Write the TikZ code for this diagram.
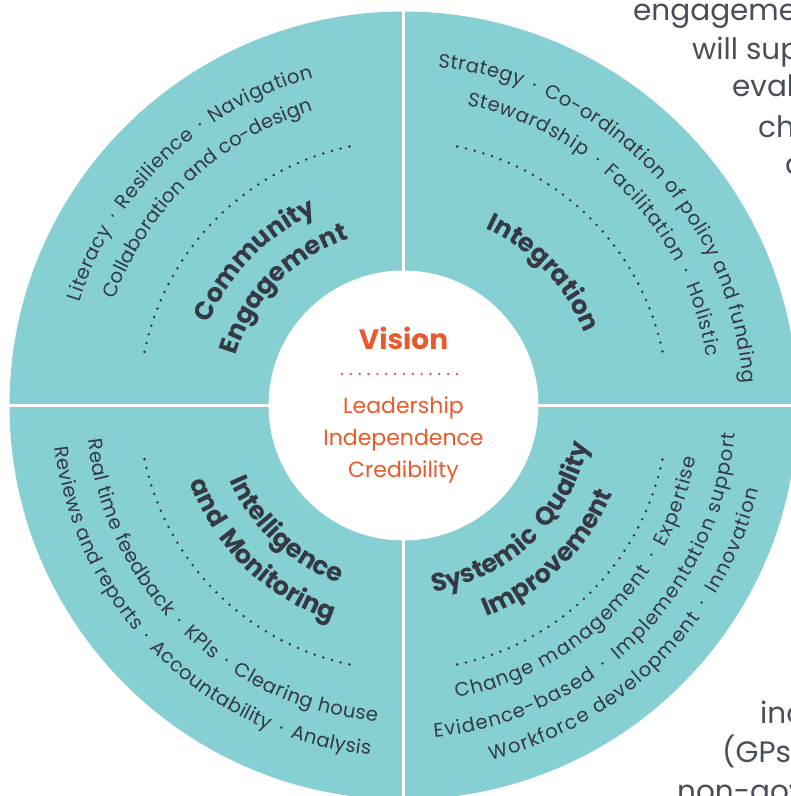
\documentclass[tikz,border=0pt]{standalone}
\usepackage{fontspec}
\setmainfont{Poppins}
\usetikzlibrary{decorations.text}
\definecolor{tealfill}{HTML}{86CFD3}
\definecolor{ink}{HTML}{353943}
\definecolor{orng}{HTML}{E85A2C}
\definecolor{bggray}{HTML}{4A4E59}
\newcommand{\smallfont}{\fontsize{19.5}{23}\selectfont}
\newcommand{\titlefont}{\fontsize{25.5}{30}\selectfont\bfseries}
% text spread along an arc from angle #2 to angle #3 (radius #1)
\newcommand{\fitarc}[5]{%
  \path[decorate, decoration={text along path, text align={fit to path}, text color=ink, text={|#4|#5}}]
    (#2:#1) arc[start angle=#2, end angle=#3, radius=#1];}
% text centred on an arc around mid angle #2 (clockwise: tops outward)
\newcommand{\uptext}[4]{%
  \path[decorate, decoration={text along path, text align=center, text color=ink, text={|#3|#4}}]
    ({#2+75}:#1) arc[start angle={#2+75}, end angle={#2-75}, radius=#1];}
% text centred on an arc around mid angle #2 (counter-clockwise: tops inward)
\newcommand{\downtext}[4]{%
  \path[decorate, decoration={text along path, text align=center, text color=ink, text={|#3|#4}}]
    ({#2-75}:#1) arc[start angle={#2-75}, end angle={#2+75}, radius=#1];}
\newcommand{\bul}{{\kern3pt}·{\kern3pt}}
\begin{document}
\begin{tikzpicture}[x=1pt,y=1pt,
  bgtext/.style={font=\fontsize{29.5}{36}\selectfont, text=bggray, inner sep=0pt, anchor=base west},
  centertext/.style={font=\fontsize{22}{26}\selectfont, text=orng, inner sep=0pt, anchor=base},
  dotarc/.style={ink, line width=2.8pt, line cap=round, dash pattern=on 0pt off 9.03pt},
  sepline/.style={white, line width=2.5pt}]
\clip (-403.5,-390.5) rectangle (387.5,405.5);
\fill[white] (-403.5,-390.5) rectangle (387.5,405.5);
% background paragraph fragments
\node[bgtext] (bga) at (229.5,384.5) {engageme};
\node[bgtext] (bgb) at (288.5,345.5) {will sup};
\node[bgtext] (bgc) at (328.5,308.5) {eval};
\node[bgtext] (bgd) at (354.5,268.5) {ch};
\node[bgtext] (bge) at (381.5,230.5) {a};
\node[bgtext] (bgf) at (356.5,-317.5) {inc};
\node[bgtext] (bgg) at (318.5,-356.5) {(GPs};
\node[bgtext] (bgh) at (273.5,-395.5) {non-gov};
% wheel
\fill[tealfill] (0,0) circle[radius=394];
\draw[sepline] (-400,0) -- (400,0);
\draw[sepline] (0,-400) -- (0,400);
\fill[white] (0,0) circle[radius=135];
% centre
\node[centertext, font=\fontsize{28}{32}\selectfont\bfseries] (vision) at (0,56.5) {Vision};
\draw[orng, line width=2.7pt, line cap=round, dash pattern=on 0pt off 8.846pt] (-61.5,31.5) -- (53.6,31.5);
\node[centertext] (lead) at (0,-7.5) {Leadership};
\node[centertext] (indep) at (0,-39.5) {Independence};
\node[centertext] (cred) at (0,-71.5) {Credibility};
% top-left: Community Engagement
\fitarc{340}{162.3}{105.4}{\smallfont}{Literacy \bul\ Resilience \bul\ Navigation}
\fitarc{308}{159.8}{107.0}{\smallfont}{Collaboration and co-design}
\draw[dotarc] (168.3:264.5) arc[start angle=168.3, end angle=101.7, radius=264.5];
\uptext{211}{135.7}{\titlefont}{Community}
\uptext{175}{135.75}{\titlefont}{Engagement}
% top-right: Integration
\fitarc{340}{84.2}{3.8}{\smallfont}{Strategy \bul\ Co-ordination of policy and funding}
\fitarc{307}{78.1}{9.1}{\smallfont}{Stewardship \bul\ Facilitation \bul\ Holistic}
\draw[dotarc] (78.3:264.5) arc[start angle=78.3, end angle=11.7, radius=264.5];
\uptext{195}{43.5}{\titlefont}{Integration}
% bottom-left: Intelligence and Monitoring
\downtext{189}{226.7}{\titlefont}{Intelligence}
\downtext{227}{225.8}{\titlefont}{and {\kern4pt}Monitoring}
\draw[dotarc] (191.7:264.5) arc[start angle=191.7, end angle=258.3, radius=264.5];
\fitarc{317}{186.2}{265.2}{\smallfont}{Real time feedback \bul\ KPIs \bul\ Clearing house}
\fitarc{351}{186.8}{264.5}{\smallfont}{Reviews and reports \bul\ Accountability \bul\ Analysis}
% bottom-right: Systemic Quality Improvement
\downtext{189}{313.65}{\titlefont}{Systemic {\kern5pt}Quality}
\downtext{227}{314.35}{\titlefont}{Improvement}
\draw[dotarc] (281.7:264.5) arc[start angle=281.7, end angle=348.3, radius=264.5];
\fitarc{297}{280.2}{349.9}{\smallfont}{Change management \bul\ Expertise}
\fitarc{333}{275.3}{355.1}{\smallfont}{Evidence-based \bul\ Implementation support}
\fitarc{365}{283.8}{346.6}{\smallfont}{Workforce development \bul\ Innovation}
\end{tikzpicture}
\end{document}
